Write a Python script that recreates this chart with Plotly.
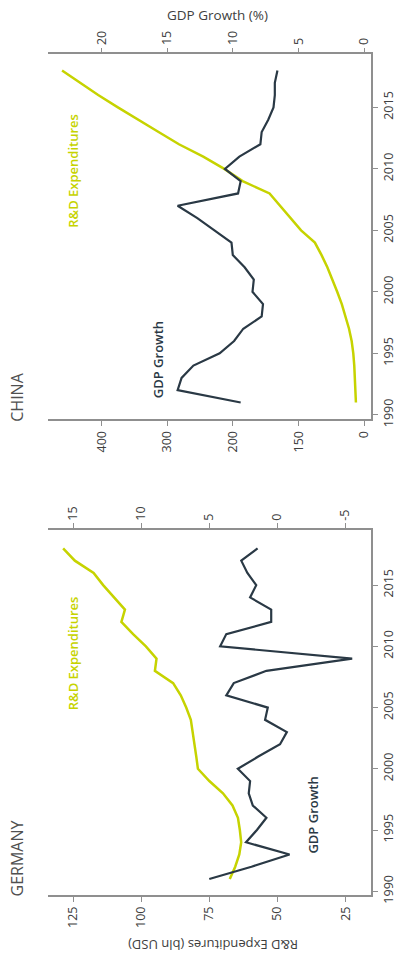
import plotly.graph_objects as go

# ---------------- data ----------------
years = list(range(1991, 2019))

germany_rd = [67.5, 65.5, 64.0, 63.3, 63.8, 64.5, 66.5, 70.0, 75.0, 79.2,
              79.8, 80.4, 81.0, 81.8, 83.5, 85.5, 88.3, 95.0, 94.4, 98.3,
              103.0, 107.3, 106.0, 110.0, 114.0, 117.5, 124.4, 128.7]
germany_gdp = [5.0, 1.9, -0.9, 2.3, 1.5, 0.8, 1.8, 2.1, 2.0, 2.9,
               1.4, -0.2, -0.7, 0.9, 0.7, 3.75, 3.2, 0.8, -5.5, 4.2,
               3.75, 0.45, 0.45, 2.0, 1.55, 2.2, 2.65, 1.45]

china_rd = [12.5, 13.0, 14.0, 15.0, 16.5, 19.0, 23.0, 28.0, 34.0, 41.0,
            48.0, 56.0, 65.0, 75.0, 96.0, 112.0, 128.0, 144.0, 185.0, 213.0,
            245.0, 282.0, 313.0, 345.0, 375.0, 405.0, 432.0, 460.0]
china_gdp = [9.4, 14.2, 13.9, 13.0, 11.0, 9.9, 9.2, 7.8, 7.7, 8.5,
             8.4, 9.1, 10.0, 10.1, 11.4, 12.7, 14.2, 9.6, 9.4, 10.6,
             9.5, 7.9, 7.8, 7.3, 6.9, 6.8, 6.8, 6.6]

year_ticks = [1990, 1995, 2000, 2005, 2010, 2015]
germany_rd_ticks = [125, 100, 75, 50, 25]
germany_gdp_tickvals = [15, 10, 5, 0, -5]
germany_gdp_ticktext = ["15", "10", "5", "0", "-5"]
china_rd_tickvals = [400, 300, 200, 100, 0]
china_rd_ticktext = ["400", "300", "200", "150", "0"]
china_gdp_ticks = [20, 15, 10, 5, 0]

# ---------------- style ----------------
W, H = 406, 973
FONT = "Open Sans"
RD_COLOR = "#c6d300"
GDP_COLOR = "#2a3945"
AXIS_COLOR = "#8f8f8f"
TEXT_COLOR = "#404040"


def px(x):
    return x / W


def py(y):
    return 1 - y / H


fig = go.Figure()

line_rd = dict(color=RD_COLOR, width=2.5)
line_gdp = dict(color=GDP_COLOR, width=2.2)

# China (top panel): x3 (R&D, bottom), x4 (GDP, top), y2
fig.add_trace(go.Scatter(x=china_rd, y=years, mode="lines", line=line_rd,
                         xaxis="x3", yaxis="y2", showlegend=False))
fig.add_trace(go.Scatter(x=china_gdp, y=years, mode="lines", line=line_gdp,
                         xaxis="x4", yaxis="y2", showlegend=False))
# Germany (bottom panel): x (R&D, bottom), x2 (GDP, top), y
fig.add_trace(go.Scatter(x=germany_rd, y=years, mode="lines", line=line_rd,
                         xaxis="x", yaxis="y", showlegend=False))
fig.add_trace(go.Scatter(x=germany_gdp, y=years, mode="lines", line=line_gdp,
                         xaxis="x2", yaxis="y", showlegend=False))

tickfont = dict(family=FONT, size=12.5, color=TEXT_COLOR)
common = dict(showgrid=False, zeroline=False, showline=True, linecolor=AXIS_COLOR,
              linewidth=1.8, ticks="outside", ticklen=5, tickwidth=1.3,
              tickcolor=AXIS_COLOR, tickangle=-90, tickfont=tickfont)

xdom = [px(48), px(372)]
ger_dom = [py(903), py(535)]
chn_dom = [py(423), py(55)]

fig.update_layout(
    width=W, height=H, autosize=False,
    margin=dict(l=0, r=0, t=0, b=0),
    paper_bgcolor="white", plot_bgcolor="white",
    font=dict(family=FONT, color=TEXT_COLOR),
    # Germany
    xaxis=dict(domain=xdom, anchor="y", side="bottom", range=[134.3, 15.6],
               tickvals=germany_rd_ticks, **common),
    xaxis2=dict(domain=xdom, anchor="y", overlaying="x", side="top",
                range=[16.86, -6.89], tickvals=germany_gdp_tickvals,
                ticktext=germany_gdp_ticktext, **common),
    yaxis=dict(domain=ger_dom, anchor="x", side="right", range=[1989.72, 2019.5],
               tickvals=year_ticks, **common),
    # China
    xaxis3=dict(domain=xdom, anchor="y2", side="bottom", range=[481.6, -10.6],
                tickvals=china_rd_tickvals, ticktext=china_rd_ticktext, **common),
    xaxis4=dict(domain=xdom, anchor="y2", overlaying="x3", side="top",
                range=[24.08, -0.53], tickvals=china_gdp_ticks, **common),
    yaxis2=dict(domain=chn_dom, anchor="x3", side="right", range=[1989.65, 2019.3],
                tickvals=year_ticks, **common),
)


def ann(text, x, y, angle, size, color, weight="normal"):
    fig.add_annotation(text=text, x=px(x), y=py(y), xref="paper", yref="paper",
                       showarrow=False, textangle=angle, xanchor="center",
                       yanchor="middle",
                       font=dict(family=FONT, size=size, color=color, weight=weight))


ann("CHINA", 17.5, 401, -90, 16, "#505050")
ann("GERMANY", 17.5, 866, -90, 16, "#505050")
ann("R&D Expenditures", 73.5, 172, -90, 13, RD_COLOR, 600)
ann("R&D Expenditures", 73.5, 659, -90, 13, RD_COLOR, 600)
ann("GDP Growth", 158.5, 363.5, -90, 13, GDP_COLOR, 600)
ann("GDP Growth", 313.5, 822.5, -90, 13, GDP_COLOR, 600)
ann("R&D Expenditures (bln USD)", 213, 954, 180, 13, TEXT_COLOR)
ann("GDP Growth (%)", 218, 15, 0, 13.5, TEXT_COLOR)

fig.write_html("out.html", config={"displayModeBar": False},
               post_script="document.body.style.margin='0';document.body.style.overflow='hidden';")
